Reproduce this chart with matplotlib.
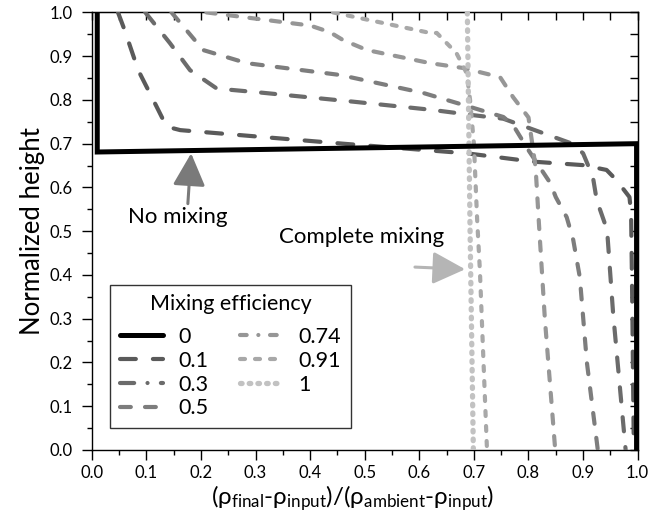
import matplotlib
matplotlib.use("Agg")
import matplotlib.pyplot as plt
from matplotlib.lines import Line2D
from matplotlib.ticker import MultipleLocator

plt.rcParams["font.family"] = ["Lato", "DejaVu Sans"]
plt.rcParams["mathtext.fontset"] = "custom"
plt.rcParams["mathtext.rm"] = "Lato"

# density ratio (x) vs normalized height (y)
eff_0_x = [0.010, 0.010, 0.998, 0.998]
eff_0_y = [1.000, 0.681, 0.700, 0.000]

eff_01_x = [0.048, 0.060, 0.085, 0.119, 0.137, 0.162, 0.460, 0.687, 0.808, 0.900, 0.943, 0.961, 0.985, 0.988, 0.990, 0.993]
eff_01_y = [1.000, 0.960, 0.868, 0.784, 0.739, 0.731, 0.700, 0.678, 0.659, 0.651, 0.640, 0.617, 0.578, 0.541, 0.350, 0.000]

eff_03_x = [0.098, 0.143, 0.180, 0.229, 0.308, 0.479, 0.625, 0.700, 0.754, 0.785, 0.880, 0.900, 0.918, 0.925, 0.944, 0.955, 0.978]
eff_03_y = [1.000, 0.930, 0.868, 0.826, 0.817, 0.796, 0.777, 0.765, 0.757, 0.743, 0.700, 0.678, 0.624, 0.571, 0.503, 0.313, 0.000]

eff_05_x = [0.146, 0.204, 0.284, 0.455, 0.607, 0.693, 0.754, 0.772, 0.800, 0.840, 0.850, 0.870, 0.882, 0.894, 0.907, 0.927]
eff_05_y = [1.000, 0.914, 0.884, 0.857, 0.816, 0.784, 0.761, 0.742, 0.685, 0.610, 0.578, 0.532, 0.480, 0.395, 0.200, 0.000]

eff_074_x = [0.210, 0.400, 0.436, 0.460, 0.504, 0.620, 0.680, 0.748, 0.772, 0.800, 0.806, 0.813, 0.820, 0.830, 0.849]
eff_074_y = [1.000, 0.970, 0.955, 0.937, 0.914, 0.884, 0.873, 0.852, 0.806, 0.760, 0.708, 0.646, 0.500, 0.300, 0.000]

eff_091_x = [0.442, 0.620, 0.632, 0.668, 0.684, 0.687, 0.693, 0.700, 0.706, 0.711, 0.717, 0.724]
eff_091_y = [1.000, 0.953, 0.953, 0.907, 0.868, 0.860, 0.800, 0.700, 0.525, 0.410, 0.220, 0.000]

eff_1_x = [0.688, 0.693, 0.699]
eff_1_y = [1.000, 0.500, 0.000]

labels = ["0", "0.1", "0.3", "0.5", "0.74", "0.91", "1"]

# colour, linewidth, dash pattern on the curves, dash pattern in the legend
styles = [
    ("black", 3.6, "-", "-"),
    ("#5a5a5a", 3.0, (0, (3.8, 4.1)), (0, (3.8, 4.1))),
    ("#6b6b6b", 3.0, (0, (3.4, 3.8)), (0, (3.4, 3.2, 0.01, 3.2))),
    ("#7d7d7d", 3.0, (0, (2.6, 3.4)), (0, (2.6, 3.4))),
    ("#969696", 3.0, (0, (2.2, 3.0)), (0, (1.6, 2.8, 0.01, 2.8))),
    ("#a8a8a8", 3.0, (0, (1.2, 2.4)), (0, (1.2, 2.4))),
    ("#c2c2c2", 3.8, (0, (0.3, 1.35)), (0, (0.3, 1.35))),
]
curves = [(eff_0_x, eff_0_y), (eff_01_x, eff_01_y), (eff_03_x, eff_03_y), (eff_05_x, eff_05_y),
          (eff_074_x, eff_074_y), (eff_091_x, eff_091_y), (eff_1_x, eff_1_y)]

fig, ax = plt.subplots(figsize=(6.51, 5.17), dpi=100)
fig.subplots_adjust(left=0.141, right=0.9795, bottom=0.1296, top=0.976)

handles = []
for (xs, ys), (col, lw, ls, leg_ls), lab in zip(curves, styles, labels):
    z = 5 if lab == "0" else 3
    ax.plot(xs, ys, color=col, lw=lw, ls=ls, dash_capstyle="round", solid_joinstyle="miter", zorder=z)
    handles.append(Line2D([], [], color=col, lw=lw, ls=leg_ls, dash_capstyle="round",
                          solid_capstyle="round", label=lab))

ax.set_xlim(0, 1)
ax.set_ylim(0, 1)
for side in ax.spines.values():
    side.set_linewidth(1.0)

ax.xaxis.set_major_locator(MultipleLocator(0.1))
ax.xaxis.set_minor_locator(MultipleLocator(0.05))
ax.yaxis.set_major_locator(MultipleLocator(0.1))
ax.yaxis.set_minor_locator(MultipleLocator(0.05))
ax.xaxis.set_major_formatter(lambda v, p: f"{v:.1f}")
ax.yaxis.set_major_formatter(lambda v, p: f"{v:.1f}")
ax.tick_params(which="major", direction="out", length=7, width=1, labelsize=12, pad=4)
ax.tick_params(which="minor", direction="out", length=3.5, width=1)
ax.tick_params(axis="y", which="major", pad=7)

# top / right ticks point inward
top = ax.secondary_xaxis("top")
right = ax.secondary_yaxis("right")
for sec in (top, right):
    sec.tick_params(which="major", direction="in", length=6, width=1)
    sec.tick_params(which="minor", direction="in", length=6, width=1)
top.xaxis.set_major_locator(MultipleLocator(0.1))
top.xaxis.set_minor_locator(MultipleLocator(0.05))
right.yaxis.set_major_locator(MultipleLocator(0.1))
right.yaxis.set_minor_locator(MultipleLocator(0.05))
top.set_xticklabels([])
right.set_yticklabels([])

ax.set_ylabel("Normalized height", fontsize=18.5, labelpad=3)
ax.set_xlabel(r"$\mathregular{(ρ_{final}‐ρ_{input})/(ρ_{ambient}‐ρ_{input})}$", fontsize=17.5)
ax.xaxis.set_label_coords(0.477, -0.075)

ax.annotate("", xy=(0.182, 0.678), xytext=(0.176, 0.563),
            arrowprops=dict(arrowstyle="-|>,head_length=1.0,head_width=0.5", mutation_scale=20,
                            lw=2.2, color="#7a7a7a", shrinkA=0, shrinkB=0))
ax.text(0.158, 0.532, "No mixing", fontsize=16, ha="center", va="center")

ax.annotate("", xy=(0.684, 0.413), xytext=(0.592, 0.418),
            arrowprops=dict(arrowstyle="-|>,head_length=1.0,head_width=0.5", mutation_scale=20,
                            lw=2.2, color="#b5b5b5", shrinkA=0, shrinkB=0))
ax.text(0.494, 0.487, "Complete mixing", fontsize=16, ha="center", va="center")

leg = ax.legend(handles=handles, title="Mixing efficiency", ncol=2, loc="lower left",
                bbox_to_anchor=(0.0335, 0.05),
                fontsize=15.5, title_fontsize=15.5, frameon=True, fancybox=False,
                handlelength=2.0, handletextpad=0.7, columnspacing=1.5, labelspacing=0.18,
                borderpad=0.45, borderaxespad=0)
leg.get_frame().set_edgecolor("black")
leg.get_frame().set_linewidth(1.0)
leg._legend_box.sep = 9  # a bit more room under the title

fig.savefig("out.png", dpi=100)
